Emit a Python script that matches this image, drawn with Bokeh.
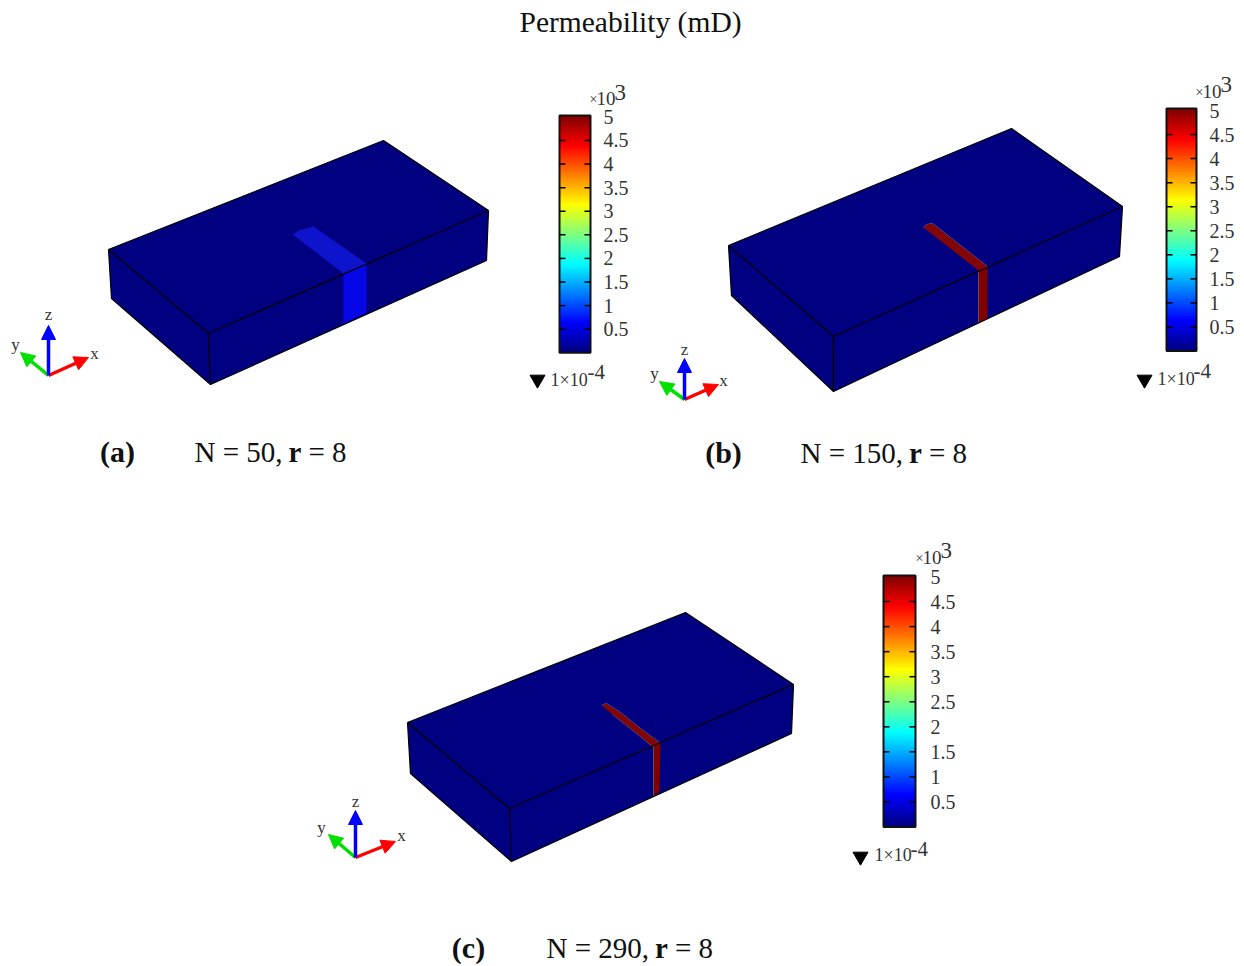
from bokeh.plotting import figure
from bokeh.models import Range1d, Arrow, NormalHead
from bokeh.core.properties import value
from bokeh.embed import file_html
from bokeh.resources import INLINE
import numpy as np

# ---- data (picture-pixel geometry) ----
panels = ["a", "b", "c"]
box_top_x = {"a": [108, 383, 488, 208], "b": [728, 1011, 1122, 833], "c": [407, 685, 793, 509]}
box_top_y = {"a": [249, 140, 210, 333], "b": [245, 128, 206, 336], "c": [722, 612, 684, 808]}
box_low_x = {"a": [111, 210, 486], "b": [731, 833, 1119], "c": [410, 511, 791]}
box_low_y = {"a": [298, 384, 260], "b": [295, 391, 256], "c": [773, 861, 733]}

strip_top_x = {"a": [292, 298, 313, 366, 343],
               "b": [923, 926, 932, 987, 978],
               "c": [601, 606, 620, 640, 659, 652, 630, 612]}
strip_top_y = {"a": [234, 230, 226, 263, 273],
               "b": [227, 224, 223, 266, 270],
               "c": [705, 703, 712, 728, 742, 746, 728, 714]}
strip_front_x = {"a": [343, 366, 366, 343], "b": [978, 987, 987, 978], "c": [653, 660, 659, 653]}
strip_front_y = {"a": [273, 263, 312, 323], "b": [270, 266, 318, 322], "c": [745, 742, 791, 796]}
strip_top_color = {"a": "#0d14cc", "b": "#840505", "c": "#840505"}
strip_front_color = {"a": "#0606e6", "b": "#800000", "c": "#800000"}

cb_x = {"a": (559, 590), "b": (1166, 1196), "c": (883, 915)}
cb_y5 = {"a": 116.4, "b": 110, "c": 576}      # pixel of value 5000
cb_y0 = {"a": 352.3, "b": 350.5, "c": 826.5}  # pixel of value 0
cb_top = {"a": 115, "b": 108, "c": 575}
tick_values = [500, 1000, 1500, 2000, 2500, 3000, 3500, 4000, 4500]
tick_labels = ["0.5", "1", "1.5", "2", "2.5", "3", "3.5", "4", "4.5", "5"]
label_values = [500, 1000, 1500, 2000, 2500, 3000, 3500, 4000, 4500, 5000]
cb_label_x = {"a": 603, "b": 1209, "c": 930}

exp_pos = {"a": (589, 99, 596, 98, 614, 92), "b": (1195, 92, 1202, 91, 1220, 84), "c": (915, 558, 922, 557, 940, 550)}
min_pos = {"a": (537, 379, 550, 379, 587, 371), "b": (1144, 379, 1157, 378, 1193, 370), "c": (860, 856, 874, 854, 910, 848)}

triads = {
    "a": {"o": (48, 375), "x": (88, 357), "y": (20, 352), "z": (48, 325),
          "lx": (94, 353), "ly": (15, 344), "lz": (48, 314)},
    "b": {"o": (684, 399), "x": (718, 384), "y": (659, 381), "z": (684, 358),
          "lx": (723, 380), "ly": (654, 373), "lz": (684, 349)},
    "c": {"o": (355, 857), "x": (395, 841), "y": (328, 834), "z": (355, 810),
          "lx": (401, 835), "ly": (321, 827), "lz": (355, 801)},
}
captions = [("(a)", 117, 451, "N = 50, ", 194), ("(b)", 723, 452, "N = 150, ", 800), ("(c)", 468, 947, "N = 290, ", 546)]
title = "Permeability (mD)"


def jet(t):
    r = np.clip(1.5 - abs(4 * t - 3), 0, 1)
    g = np.clip(1.5 - abs(4 * t - 2), 0, 1)
    b = np.clip(1.5 - abs(4 * t - 1), 0, 1)
    return "#%02x%02x%02x" % (int(r * 255), int(g * 255), int(b * 255))


W, H = 1236, 964
p = figure(width=W, height=H, x_range=Range1d(0, W), y_range=Range1d(H, 0),
           toolbar_location=None, output_backend="svg", min_border=0,
           outline_line_color=None, background_fill_color="white", border_fill_color="white")
p.xaxis.visible = False
p.yaxis.visible = False
p.grid.visible = False

SERIF = value("Liberation Serif")
GREY = "#333333"
INK = "#111111"


def txt(x, y, s, size, style="normal", align="center", color=GREY):
    p.text([x], [y], text=[s], text_font=SERIF, text_font_size=f"{size}px", text_font_style=style,
           text_align=align, text_baseline="middle", text_color=color)


BODY = "#000080"
for k in panels:
    tx, ty, lx, ly = box_top_x[k], box_top_y[k], box_low_x[k], box_low_y[k]
    p.patch(tx, ty, fill_color=BODY, line_color=None)
    p.patch([tx[0], tx[3], lx[1], lx[0]], [ty[0], ty[3], ly[1], ly[0]], fill_color=BODY, line_color=None)
    p.patch([tx[3], tx[2], lx[2], lx[1]], [ty[3], ty[2], ly[2], ly[1]], fill_color=BODY, line_color=None)
    # fracture strip
    if k != "a":
        p.line(strip_top_x[k], strip_top_y[k], line_color="#3f9fd0", line_width=1, line_alpha=0.8)
        p.line(strip_front_x[k][:1] + strip_front_x[k][3:], strip_front_y[k][:1] + strip_front_y[k][3:],
               line_color="#58d0a0", line_width=1, line_alpha=0.8)
    p.patch(strip_top_x[k], strip_top_y[k], fill_color=strip_top_color[k], line_color=None)
    p.patch(strip_front_x[k], strip_front_y[k], fill_color=strip_front_color[k], line_color=None)
    # edges
    p.line(tx + tx[:1], ty + ty[:1], line_color="black", line_width=1.2)
    p.line([tx[0], lx[0], lx[1], lx[2], tx[2]], [ty[0], ly[0], ly[1], ly[2], ty[2]], line_color="black", line_width=1.2)
    p.line([tx[3], lx[1]], [ty[3], ly[1]], line_color="black", line_width=1.2)

    # colour bar: its own value scale, mapped on the plot frame
    y5, y0 = cb_y5[k], cb_y0[k]
    per_px = 5000 / (y0 - y5)
    name = "cb_" + k
    p.extra_y_ranges[name] = Range1d(start=(y0 - H) * per_px, end=y0 * per_px)
    x0, x1 = cb_x[k]
    top_val = (y0 - cb_top[k]) * per_px
    levels = np.linspace(0, top_val, 161)
    # each band runs up to the bar's head and is covered by the next: no seams
    p.quad(left=x0, right=x1, bottom=levels[:-1], top=[top_val] * 160, y_range_name=name,
           fill_color=[jet(min(v / 5000, 1)) for v in levels[:-1]], line_color=None)
    p.quad(left=[x0], right=[x1], bottom=[0], top=[top_val], y_range_name=name,
           fill_color=None, line_color="#111111", line_width=2)
    p.segment(x0=[x0] * 9, x1=[x0 + 6] * 9, y0=tick_values, y1=tick_values, y_range_name=name, line_color="black", line_width=1.5)
    p.segment(x0=[x1 - 6] * 9, x1=[x1] * 9, y0=tick_values, y1=tick_values, y_range_name=name, line_color="black", line_width=1.5)
    p.text([cb_label_x[k]] * 10, label_values, text=tick_labels, y_range_name=name,
           text_font=SERIF, text_font_size="20px", text_align="left", text_baseline="middle", text_color=GREY)

    # exponent
    ex, ey, tx10, ty10, sx, sy = exp_pos[k]
    txt(ex, ey, "×", 14, align="left")
    txt(tx10, ty10, "10", 19, align="left")
    txt(sx, sy, "3", 23, align="left")
    # lower limit
    mx, my, lx1, ly1, sx1, sy1 = min_pos[k]
    p.scatter([mx], [my], marker="inverted_triangle", size=15, fill_color="black", line_color="black")
    txt(lx1, ly1, "1×10", 18, align="left")
    txt(sx1, sy1, "-4", 21, align="left")

    # triad
    t = triads[k]
    for end, col in (("x", "#ff0000"), ("y", "#00e000"), ("z", "#0000ff")):
        p.add_layout(Arrow(end=NormalHead(size=14, fill_color=col, line_color=col), line_color=col, line_width=3.5,
                           x_start=t["o"][0], y_start=t["o"][1], x_end=t[end][0], y_end=t[end][1]))
        txt(t["l" + end][0], t["l" + end][1], end, 17)

txt(630, 21, title, 29.5, color=INK)
for lab, lx, ly, s, nx in captions:
    txt(lx, ly, lab, 30, style="bold", color=INK)
    txt(nx, ly, s, 29, align="left", color=INK)
    shift = (len(s) - 8) * 14.5
    txt(nx + 94 + shift, ly, "r", 29, style="bold", align="left", color=INK)
    txt(nx + 114 + shift, ly, "= 8", 29, align="left", color=INK)

open("out.html", "w").write(file_html(p, INLINE))
